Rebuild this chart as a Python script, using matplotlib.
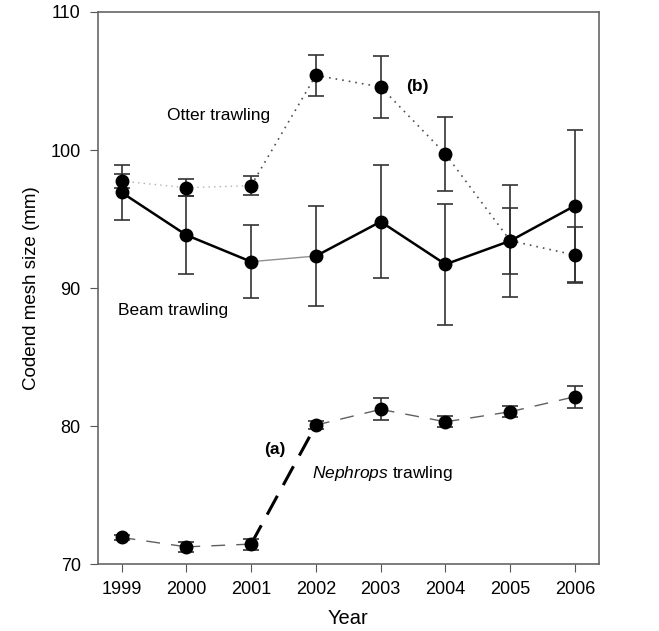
import numpy as np
import matplotlib
matplotlib.use("Agg")
import matplotlib.pyplot as plt

plt.rcParams['font.family'] = ['Liberation Sans', 'DejaVu Sans']
plt.rcParams['mathtext.fontset'] = 'custom'
plt.rcParams['mathtext.rm'] = 'Liberation Sans'
plt.rcParams['mathtext.it'] = 'Liberation Sans:italic'

years = [1999, 2000, 2001, 2002, 2003, 2004, 2005, 2006]

otter = [97.75, 97.27, 97.42, 105.41, 104.57, 99.71, 93.43, 92.39]
otter_err = [0.5, 0.63, 0.68, 1.47, 2.26, 2.65, 2.4, 2.0]

beam = [96.93, 93.84, 91.91, 92.32, 94.81, 91.72, 93.42, 95.97]
beam_err = [2.0, 2.8, 2.66, 3.65, 4.07, 4.38, 4.05, 5.5]

nephrops = [71.93, 71.25, 71.45, 80.07, 81.21, 80.31, 81.04, 82.13]
nephrops_err = [0.2, 0.35, 0.4, 0.3, 0.8, 0.4, 0.4, 0.8]

fig = plt.figure(figsize=(6.59, 6.31), dpi=100)
ax = fig.add_axes([0.148, 0.106, 0.761, 0.875])

# segment styles: (color, linestyle, width) for each pair of years
otter_seg = [('#b0b0b0', (0, (1, 3)), 1.0)] * 2 + [('#505050', (0, (1, 3)), 1.2)] * 5
beam_seg = [('black', '-', 1.8)] * 2 + [('#909090', '-', 1.0)] + [('black', '-', 1.8)] * 4
neph_seg = [('#606060', (0, (10, 8)), 1.0)] * 2 + [('black', (0, (7, 4)), 2.2)] + [('#606060', (0, (10, 8)), 1.0)] * 4

for data, segs in [(otter, otter_seg), (beam, beam_seg), (nephrops, neph_seg)]:
    for i in range(len(years) - 1):
        c, ls, lw = segs[i]
        ax.plot(years[i:i + 2], data[i:i + 2], color=c, linestyle=ls, linewidth=lw, zorder=2)

for data, err in [(otter, otter_err), (beam, beam_err), (nephrops, nephrops_err)]:
    ax.errorbar(years, data, yerr=err, fmt='o', color='black', ecolor='#333333',
                elinewidth=1.2, capsize=6, capthick=1.2, markersize=9, zorder=3)

ax.set_xlim(1998.63, 2006.37)
ax.set_ylim(70, 110)
ax.set_xticks(years)
ax.set_yticks([70, 80, 90, 100, 110])
ax.tick_params(axis='both', labelsize=13, direction='out', length=6, color='#555555',
               top=False, right=False, pad=6)
for s in ax.spines.values():
    s.set_color('#666666')
    s.set_linewidth(1.2)

ax.set_xlabel('Year', fontsize=14.5, labelpad=8)
ax.set_ylabel('Codend mesh size (mm)', fontsize=13.5, labelpad=8)

ax.text(2000.5, 102.5, 'Otter trawling', fontsize=12.5, ha='center', va='center')
ax.text(2003.57, 104.57, '(b)', fontsize=12.5, fontweight='bold', ha='center', va='center')
ax.text(1999.8, 88.4, 'Beam trawling', fontsize=12.5, ha='center', va='center')
ax.text(2001.37, 78.3, '(a)', fontsize=12.5, fontweight='bold', ha='center', va='center')
ax.text(2003.03, 76.6, r'$\it{Nephrops}$ trawling', fontsize=12.5, ha='center', va='center')

fig.savefig('out.png', dpi=100)
